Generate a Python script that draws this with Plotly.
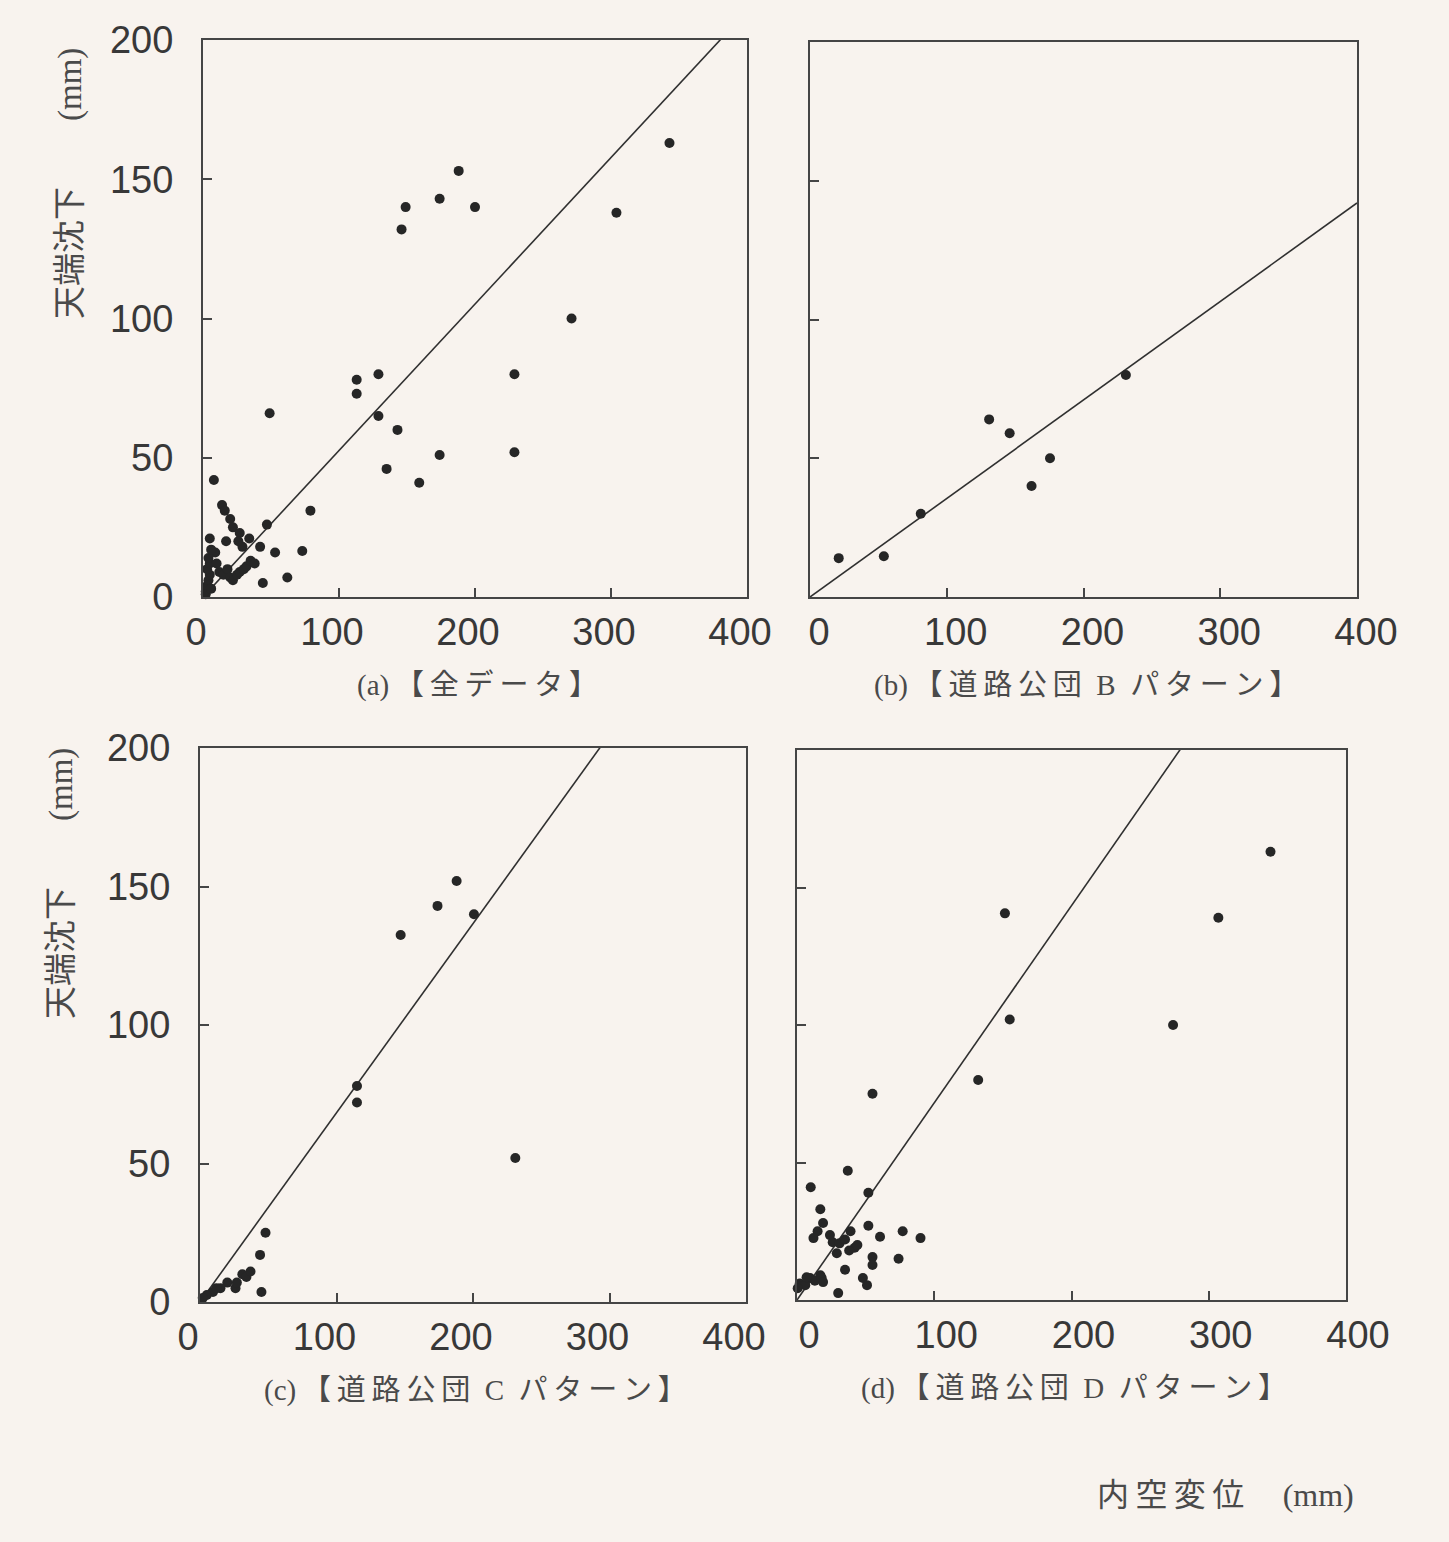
import plotly.graph_objects as go

# ---- data: crown settlement vs. convergence (mm) ----
a_x = [49, 79, 73, 62, 44, 53, 113, 113, 129, 129, 135, 143, 146, 149, 159, 174, 174, 188, 200,
       229, 229, 271, 304, 343, 8,
       14, 16, 20, 22, 27, 34, 42, 47, 17, 29, 26, 5, 9, 2, 3, 4, 5, 3, 5, 4, 6, 10, 12, 15, 18,
       20, 22, 25, 27, 30, 32, 35, 38, 2, 6]
a_y = [66, 31, 16.5, 7, 5, 16, 78, 73, 80, 65, 46, 60, 132, 140, 41, 143, 51, 153, 140,
       80, 52, 100, 138, 163, 42,
       33, 31, 28, 25, 23, 21, 18, 26, 20, 18, 20, 21, 16, 2, 4, 6, 8, 10, 12, 14, 17, 12, 9, 8, 10,
       7, 6, 8, 9, 10, 11, 13, 12, 1, 3]

b_x = [21, 54, 81, 131, 146, 162, 175.5, 231]
b_y = [14, 14.7, 30, 64, 59, 40, 50, 80]

c_x = [147, 174, 188, 200.7, 115, 115, 231, 48, 44, 45, 31, 34, 26, 27, 20, 15, 9.5, 5, 2, 37, 12]
c_y = [132.5, 143, 152, 140, 78, 72, 52, 25, 17, 3.6, 10, 9, 5, 7, 7, 5, 3.6, 2.5, 1.4, 11, 5]

d_x = [345, 307, 274, 151.5, 155, 132, 55, 37, 52,
       10, 17, 19, 15, 12, 52, 60.5, 77, 90, 74, 55, 55, 39, 26, 31, 42, 29, 24, 35, 48, 51, 30,
       2, 9.5, 17, 13, 6, 0.5, 18, 7, 19, 35, 38, 44]
d_y = [163, 139, 100, 140.6, 102, 80, 75, 47, 39,
       41, 33, 28, 25, 22.5, 27, 23, 25, 22.5, 15, 15.6, 12.7, 25, 21, 20.6, 19, 17, 23.6, 11, 8, 5.4, 2.5,
       6, 8, 9, 7, 5.4, 4.3, 8, 8.3, 6.5, 22, 18, 20]

# regression slopes through the origin for each panel
fit_slope = [0.526, 0.355, 0.683, 0.717]

T = "\u2009"   # thin space
EN = "\u2002"  # en space
captions = [
    "(a)" + T + T.join("【全データ】"),
    "(b)" + T + T.join("【道路公団") + EN + "B" + EN + T.join("パターン】"),
    "(c)" + T + T.join("【道路公団") + EN + "C" + EN + T.join("パターン】"),
    "(d)" + T + T.join("【道路公団") + EN + "D" + EN + T.join("パターン】"),
]
y_title = "天端沈下\u3000\u3000(mm)"
x_title = T.join("内空変位") + "\u3000" + T + "(mm)"
x_ticks = [0, 100, 200, 300, 400]
y_ticks = [0, 50, 100, 150, 200]

W, H = 1449, 1542
BG = "#f8f3ee"
INK = "#262626"
AX = "#454545"
TXT = "#4a4a4a"
JP = "Liberation Serif, Noto Sans CJK JP"


def px(x):
    return x / W


def py(y):
    return 1 - y / H


# panel boxes in pixels: (left, right, top, bottom)
boxes = [(203, 747, 40, 597), (810, 1357, 42, 597),
         (200, 746, 748, 1302), (797, 1346, 750, 1300)]
# horizontal nudge of the x tick numbers per panel
label_shift = [-7, 9, -12, 12]

series = [(a_x, a_y), (b_x, b_y), (c_x, c_y), (d_x, d_y)]

fig = go.Figure()
layout = dict(width=W, height=H,
              margin=dict(l=0, r=0, t=0, b=0, autoexpand=False),
              paper_bgcolor=BG, plot_bgcolor=BG, showlegend=False)

tick_font = dict(family="Liberation Sans", size=38, color="#383838")
annotations = []

for i, ((xs, ys), (l, r, t, b)) in enumerate(zip(series, boxes)):
    n = "" if i == 0 else str(i + 1)
    xa, ya = "x" + n, "y" + n
    layout["xaxis" + n] = dict(
        domain=[px(l), px(r)], anchor=ya, range=[0, 400], automargin=False,
        tickvals=x_ticks, ticktext=[str(v) for v in x_ticks],
        ticks="inside", ticklen=9, tickwidth=1.5, tickcolor=AX,
        showline=True, linecolor=AX, linewidth=2, mirror=True,
        showgrid=False, zeroline=False, tickfont=tick_font,
        ticklabelstandoff=0, ticklabelshift=label_shift[i])
    layout["yaxis" + n] = dict(
        domain=[py(b), py(t)], anchor=xa, range=[0, 200], automargin=False,
        tickvals=y_ticks, ticktext=[str(v) for v in y_ticks],
        ticks="inside", ticklen=9, tickwidth=1.5, tickcolor=AX,
        showline=True, linecolor=AX, linewidth=2, mirror=True,
        showgrid=False, zeroline=False, tickfont=tick_font,
        showticklabels=(i % 2 == 0), ticklabelstandoff=20)

    k = fit_slope[i]
    fig.add_trace(go.Scatter(x=[0, 400], y=[0, 400 * k], mode="lines",
                             line=dict(color="#303030", width=1.6),
                             xaxis=xa, yaxis=ya, hoverinfo="skip"))
    fig.add_trace(go.Scatter(x=xs, y=ys, mode="markers",
                             marker=dict(size=10, color=INK),
                             cliponaxis=False, xaxis=xa, yaxis=ya))

    annotations.append(dict(
        text=captions[i], x=px((l + r) / 2 + 2), y=py(b + 88),
        xref="paper", yref="paper", showarrow=False, xanchor="center", yanchor="middle",
        font=dict(family=JP, size=29, color=TXT)))

# rotated y titles beside the left-hand panels
for xc, yc in [(70, 184), (62, 884)]:
    annotations.append(dict(
        text=y_title, textangle=-90, x=px(xc), y=py(yc),
        xref="paper", yref="paper", showarrow=False, xanchor="center", yanchor="middle",
        font=dict(family=JP, size=33, color=TXT)))

annotations.append(dict(
    text=x_title, x=px(1356), y=py(1495), xref="paper", yref="paper",
    showarrow=False, xanchor="right", yanchor="middle",
    font=dict(family=JP, size=32, color=TXT)))

layout["annotations"] = annotations
fig.update_layout(**layout)
fig.write_html("out.html")
